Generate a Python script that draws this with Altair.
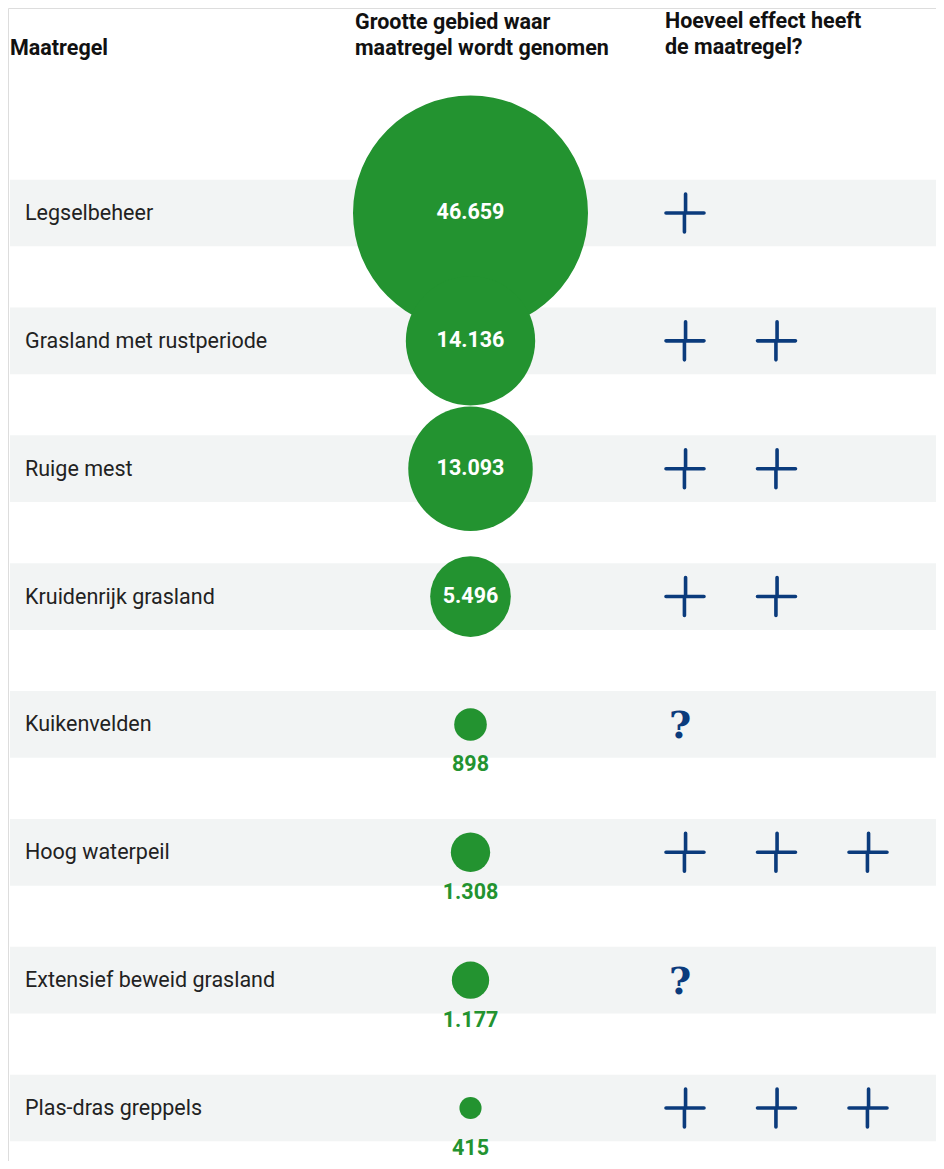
import altair as alt
import pandas as pd

# ---- data ----
maatregelen = ["Legselbeheer", "Grasland met rustperiode", "Ruige mest", "Kruidenrijk grasland",
               "Kuikenvelden", "Hoog waterpeil", "Extensief beweid grasland", "Plas-dras greppels"]
oppervlak = [46659, 14136, 13093, 5496, 898, 1308, 1177, 415]
oppervlak_label = ["46.659", "14.136", "13.093", "5.496", "898", "1.308", "1.177", "415"]
effect_plussen = [1, 2, 2, 2, None, 3, None, 3]   # None = onbekend (?)

kop_maatregel = "Maatregel"
kop_grootte = ["Grootte gebied waar", "maatregel wordt genomen"]
kop_effect = ["Hoeveel effect heeft", "de maatregel?"]

GREEN = "#239330"
BLUE = "#0b3b7c"
BAND = "#f2f4f4"
FONT = "Roboto"
FS = 21.5

rows_df = pd.DataFrame({
    "row": list(range(len(maatregelen))),
    "maatregel": maatregelen,
    "opp": oppervlak,
    "label": oppervlak_label,
})
rows_df["inside"] = rows_df["opp"] > 5000

plus_rows = []
q_rows = []
for i, n in enumerate(effect_plussen):
    if n is None:
        q_rows.append({"row": i})
    else:
        for s in range(n):
            plus_rows.append({"row": i, "slot": s})
plus_df = pd.DataFrame(plus_rows)
q_df = pd.DataFrame(q_rows)

yscale = alt.Scale(domain=[0, 7], range=[205, 1100])
rmax = 117.5
sscale = alt.Scale(type="linear", domain=[0, max(oppervlak)], range=[0, (2 * rmax) ** 2], zero=True)

base = alt.Chart(rows_df)

bands = base.transform_calculate(
    y0="datum.row - 0.261", y1="datum.row + 0.261"
).mark_rect(color=BAND).encode(
    y=alt.Y("y0:Q", scale=yscale, axis=None),
    y2="y1:Q",
    x=alt.value(2),
    x2=alt.value(928),
)

names = base.mark_text(align="left", baseline="middle", font=FONT, fontSize=FS, color="#222222", dy=1).encode(
    y=alt.Y("row:Q", scale=yscale, axis=None),
    x=alt.value(17),
    text="maatregel:N",
)

circles = base.mark_circle(color=GREEN, opacity=1).encode(
    y=alt.Y("row:Q", scale=yscale, axis=None),
    x=alt.value(462.5),
    size=alt.Size("opp:Q", scale=sscale, legend=None),
)

inside_lbl = base.transform_filter("datum.inside").mark_text(
    align="center", baseline="middle", font=FONT, fontSize=FS, fontWeight="bold", color="white"
).encode(
    y=alt.Y("row:Q", scale=yscale, axis=None),
    x=alt.value(462.5),
    text="label:N",
)

below_lbl = base.transform_filter("!datum.inside").mark_text(
    align="center", baseline="middle", font=FONT, fontSize=FS, fontWeight="bold", color=GREEN, dy=41
).encode(
    y=alt.Y("row:Q", scale=yscale, axis=None),
    x=alt.value(462.5),
    text="label:N",
)

plus_path = "M-1,0H1M0.03,-1V0M-0.03,0V1"
plusses = alt.Chart(plus_df).mark_point(
    shape=plus_path, filled=False, stroke=BLUE, strokeWidth=3.6, size=38 * 38, opacity=1, strokeCap="round"
).encode(
    y=alt.Y("row:Q", scale=yscale, axis=None),
    x=alt.X("slot:Q", scale=alt.Scale(domain=[0, 2], range=[677, 860]), axis=None),
)

questions = alt.Chart(q_df).transform_calculate(q="'?'").mark_text(
    align="center", baseline="middle", font="DejaVu Serif", fontSize=38, fontWeight="bold", color=BLUE, dy=3
).encode(
    y=alt.Y("row:Q", scale=yscale, axis=None),
    x=alt.value(672),
    text="q:N",
)

hdr1 = alt.Chart(pd.DataFrame({"t": [kop_maatregel]})).mark_text(
    align="left", baseline="middle", font=FONT, fontSize=FS, fontWeight="bold", color="#111111"
).encode(x=alt.value(2), y=alt.value(41), text="t:N")
hdr2 = alt.Chart(pd.DataFrame({"t": ["\n".join(kop_grootte)]})).mark_text(
    align="left", baseline="middle", font=FONT, fontSize=FS, fontWeight="bold", color="#111111",
    lineBreak="\n", lineHeight=26
).encode(x=alt.value(347), y=alt.value(15), text="t:N")
hdr3 = alt.Chart(pd.DataFrame({"t": ["\n".join(kop_effect)]})).mark_text(
    align="left", baseline="middle", font=FONT, fontSize=FS, fontWeight="bold", color="#111111",
    lineBreak="\n", lineHeight=26
).encode(x=alt.value(657), y=alt.value(14), text="t:N")

chart = alt.layer(
    bands, names, circles, inside_lbl, below_lbl, plusses, questions, hdr1, hdr2, hdr3
).properties(
    width=928, height=1153, padding=0, autosize=alt.AutoSizeParams(type="none")
).configure_view(stroke="transparent", strokeWidth=0).configure(background="white")

chart.save("out.html", embed_options={"renderer": "svg", "actions": False})
